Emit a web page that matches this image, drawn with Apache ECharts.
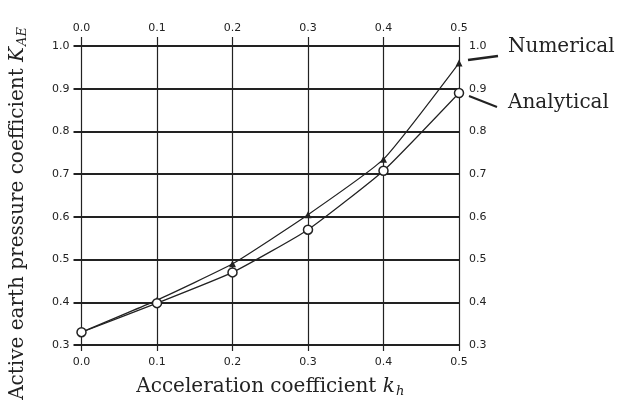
<!DOCTYPE html>
<html><head><meta charset="utf-8">
<script src="https://cdn.jsdelivr.net/npm/echarts@6/dist/echarts.min.js"></script>
<style>html,body{margin:0;padding:0;background:#fff}#c{width:618px;height:414px}</style>
</head><body><div id="c"></div>
<script>
var kh = [0.0, 0.1, 0.2, 0.3, 0.4, 0.5];
var numerical = [0.33, 0.405, 0.49, 0.605, 0.735, 0.96];
var analytical = [0.33, 0.398, 0.47, 0.57, 0.708, 0.89];
var seriesNames = ['Numerical', 'Analytical'];

var ink = '#222';
var serif = 'DejaVu Serif';
var tickFont = {fontFamily: 'DejaVu Sans', fontSize: 11, color: ink};
function fmt(v){ return Number(v).toFixed(1); }
function pairs(ys){ return kh.map(function(x,i){ return [x, ys[i]]; }); }
var titleRich = {
  n: {fontFamily: serif, fontSize: 20, color: ink},
  i: {fontFamily: serif, fontSize: 20, fontStyle: 'italic', color: ink},
  s: {fontFamily: serif, fontSize: 13, fontStyle: 'italic', color: ink, padding: [10, 0, 0, 1]}
};

var chart = echarts.init(document.getElementById('c'));
chart.setOption({
  animation: false,
  backgroundColor: '#fff',
  grid: {left: 80, right: 159, top: 46, bottom: 69},
  xAxis: [{
    type: 'value', position: 'bottom', min: 0, max: 0.5, interval: 0.1,
    name: '{n|Acceleration coefficient }{i|k}{s|h}', nameLocation: 'middle', nameGap: 30,
    nameTextStyle: {rich: titleRich},
    axisLine: {show: false},
    axisTick: {show: true, length: 6, lineStyle: {color: ink, width: 1.2}},
    axisLabel: Object.assign({formatter: fmt, margin: 12}, tickFont),
    splitLine: {show: true, lineStyle: {color: ink, width: 1.2}}
  }, {
    type: 'value', position: 'top', min: 0, max: 0.5, interval: 0.1,
    axisLine: {show: false},
    axisTick: {show: true, length: 9, lineStyle: {color: ink, width: 1.2}},
    axisLabel: Object.assign({formatter: fmt, margin: 12}, tickFont),
    splitLine: {show: false}
  }],
  yAxis: [{
    type: 'value', position: 'left', min: 0.3, max: 1.0, interval: 0.1,
    name: '{n|Active earth pressure coefficient }{i|K}{s|AE}', nameLocation: 'middle', nameGap: 52,
    nameTextStyle: {rich: titleRich, padding: [0, 36, 0, 0]},
    axisLine: {show: false},
    axisTick: {show: true, length: 8, lineStyle: {color: ink, width: 2}},
    axisLabel: Object.assign({formatter: fmt, margin: 12}, tickFont),
    splitLine: {show: true, lineStyle: {color: ink, width: 2}}
  }, {
    type: 'value', position: 'right', min: 0.3, max: 1.0, interval: 0.1,
    axisLine: {show: false},
    axisTick: {show: true, length: 7, lineStyle: {color: ink, width: 2}},
    axisLabel: Object.assign({formatter: fmt, margin: 10}, tickFont),
    splitLine: {show: false}
  }],
  series: [{
    name: seriesNames[0], type: 'line', data: pairs(numerical),
    symbol: 'triangle', symbolSize: 7,
    itemStyle: {color: ink},
    lineStyle: {color: ink, width: 1.2},
    smooth: 0.15, z: 3
  }, {
    name: seriesNames[1], type: 'line', data: pairs(analytical),
    symbol: 'circle', symbolSize: 9,
    itemStyle: {color: '#fff', borderColor: ink, borderWidth: 1.5},
    lineStyle: {color: ink, width: 1.2},
    smooth: 0.15, z: 4
  }],
  graphic: [
    {type: 'text', left: 508, top: 37, style: {text: seriesNames[0], font: '20px "DejaVu Serif"', fill: ink}},
    {type: 'text', left: 508, top: 93, style: {text: seriesNames[1], font: '20px "DejaVu Serif"', fill: ink}},
    {type: 'line', shape: {x1: 468, y1: 60, x2: 498, y2: 56}, style: {stroke: ink, lineWidth: 2.5}},
    {type: 'line', shape: {x1: 469, y1: 96, x2: 497, y2: 107}, style: {stroke: ink, lineWidth: 2}}
  ]
});
</script></body></html>
